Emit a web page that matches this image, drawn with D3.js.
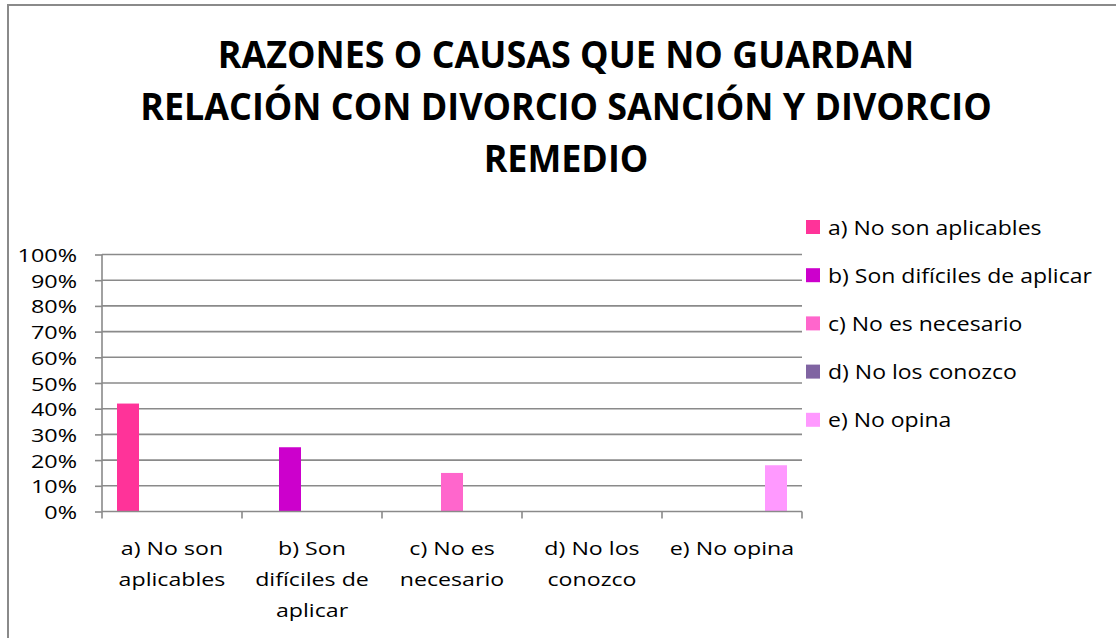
<!DOCTYPE html>
<html>
<head>
<meta charset="utf-8">
<script src="https://cdn.jsdelivr.net/npm/d3@7"></script>
<style>
  body { margin: 0; background: #fff; }
  text { font-family: "Open Sans", "Noto Sans", sans-serif; fill: #000; }
</style>
</head>
<body>
<div id="chart"></div>
<script>
// chart data
var categories = ["a) No son aplicables", "b) Son difíciles de aplicar", "c) No es necesario", "d) No los conozco", "e) No opina"];
var axisLabels = [["a) No son", "aplicables"], ["b) Son", "difíciles de", "aplicar"], ["c) No es", "necesario"], ["d) No los", "conozco"], ["e) No opina"]];
var seriesNames = ["a) No son aplicables", "b) Son difíciles de aplicar", "c) No es necesario", "d) No los conozco", "e) No opina"];
// each series only has a value in its own category
var valuesA = [0.42, 0, 0, 0, 0];
var valuesB = [0, 0.25, 0, 0, 0];
var valuesC = [0, 0, 0.15, 0, 0];
var valuesD = [0, 0, 0, 0, 0];
var valuesE = [0, 0, 0, 0, 0.18];
var colors = ["#ff3399", "#cc00cc", "#ff66cc", "#8064a2", "#ff99ff"];
var titleLines = ["RAZONES O CAUSAS QUE NO GUARDAN", "RELACIÓN CON DIVORCIO SANCIÓN Y DIVORCIO", "REMEDIO"];
var yTicks = [0, 0.1, 0.2, 0.3, 0.4, 0.5, 0.6, 0.7, 0.8, 0.9, 1.0];

var allValues = [valuesA, valuesB, valuesC, valuesD, valuesE];

var width = 1116, height = 638;
var svg = d3.select("#chart").append("svg")
    .attr("width", width).attr("height", height);

// the original picture is stretched sideways, so text gets a horizontal scale
function place(x, y, sx) {
    return "translate(" + x + "," + y + ") scale(" + sx + ",1)";
}

// outer chart border
svg.append("path")
    .attr("d", "M8,638 L8,5 L1116,5")
    .attr("fill", "none")
    .attr("stroke", "#8a8a8a")
    .attr("stroke-width", 2);

// title
svg.append("g").selectAll("text")
    .data(titleLines)
    .enter().append("text")
    .attr("transform", function(d, i) { return place(566, 68 + i * 52, 0.97); })
    .attr("text-anchor", "middle")
    .style("font-size", "37px")
    .style("font-weight", "bold")
    .text(function(d) { return d; });

var plot = {left: 102, right: 802, top: 254.5, bottom: 511.5};

var x0 = d3.scaleBand()
    .domain(categories)
    .range([plot.left, plot.right])
    .padding(0);

var x1 = d3.scaleBand()
    .domain(d3.range(seriesNames.length))
    .range([0, x0.bandwidth()])
    .paddingInner(0)
    .paddingOuter(15 / 22);

var y = d3.scaleLinear()
    .domain([0, 1])
    .range([plot.bottom, plot.top]);

// gridlines
svg.append("g").selectAll("line")
    .data(yTicks.slice(1))
    .enter().append("line")
    .attr("x1", plot.left)
    .attr("x2", plot.right)
    .attr("y1", function(d) { return y(d); })
    .attr("y2", function(d) { return y(d); })
    .attr("stroke", "#8a8a8a")
    .attr("stroke-width", 1.6);

// y axis
var yAxis = d3.axisLeft(y)
    .tickValues(yTicks)
    .tickFormat(d3.format(".0%"))
    .tickSize(7);

var gy = svg.append("g")
    .attr("transform", "translate(" + plot.left + ",0)")
    .call(yAxis);
gy.selectAll("line").attr("stroke", "#8a8a8a").attr("stroke-width", 1.6);
gy.select(".domain").attr("stroke", "#8a8a8a").attr("stroke-width", 1.6).attr("d", "M0," + plot.top + "V" + plot.bottom);
gy.selectAll("text")
    .attr("x", 0)
    .attr("dy", null)
    .attr("transform", place(-25, 7, 1.23))
    .style("font-size", "19px")
    .style("font-family", "'Open Sans', 'Noto Sans', sans-serif")
    .attr("fill", "#000");

// bars
var barG = svg.append("g");
allValues.forEach(function(vals, s) {
    barG.selectAll(".bar" + s)
        .data(vals)
        .enter().append("rect")
        .attr("class", "bar" + s)
        .attr("x", function(d, i) { return x0(categories[i]) + x1(s); })
        .attr("width", x1.bandwidth())
        .attr("y", function(d) { return y(d); })
        .attr("height", function(d) { return y(0) - y(d); })
        .attr("fill", colors[s]);
});

// x axis
var xAxis = d3.axisBottom(x0).tickSize(0).tickFormat("");
var gx = svg.append("g")
    .attr("transform", "translate(0," + plot.bottom + ")")
    .call(xAxis);
gx.select(".domain").attr("stroke", "#8a8a8a").attr("stroke-width", 1.6).attr("d", "M" + plot.left + ",0H" + plot.right);

// category dividers ticks
var bounds = categories.map(function(c) { return x0(c); }).concat([plot.right]);
gx.selectAll(".divtick")
    .data(bounds)
    .enter().append("line")
    .attr("class", "divtick")
    .attr("x1", function(d) { return d; })
    .attr("x2", function(d) { return d; })
    .attr("y1", 0)
    .attr("y2", 7)
    .attr("stroke", "#8a8a8a")
    .attr("stroke-width", 1.6);

// category labels
var labelG = svg.append("g");
axisLabels.forEach(function(lines, i) {
    labelG.selectAll(".lab" + i)
        .data(lines)
        .enter().append("text")
        .attr("transform", function(d, j) {
            return place(x0(categories[i]) + x0.bandwidth() / 2, 555 + j * 31, 1.22);
        })
        .attr("text-anchor", "middle")
        .style("font-size", "19px")
        .text(function(d) { return d; });
});

// legend
var legend = svg.append("g").selectAll("g")
    .data(seriesNames)
    .enter().append("g")
    .attr("transform", function(d, i) { return "translate(806," + (227 + i * 48.2) + ")"; });

legend.append("rect")
    .attr("x", 0)
    .attr("y", -7)
    .attr("width", 14)
    .attr("height", 14)
    .attr("fill", function(d, i) { return colors[i]; });

legend.append("text")
    .attr("transform", place(22, 7.5, 1.15))
    .style("font-size", "20px")
    .text(function(d) { return d; });
</script>
</body>
</html>
